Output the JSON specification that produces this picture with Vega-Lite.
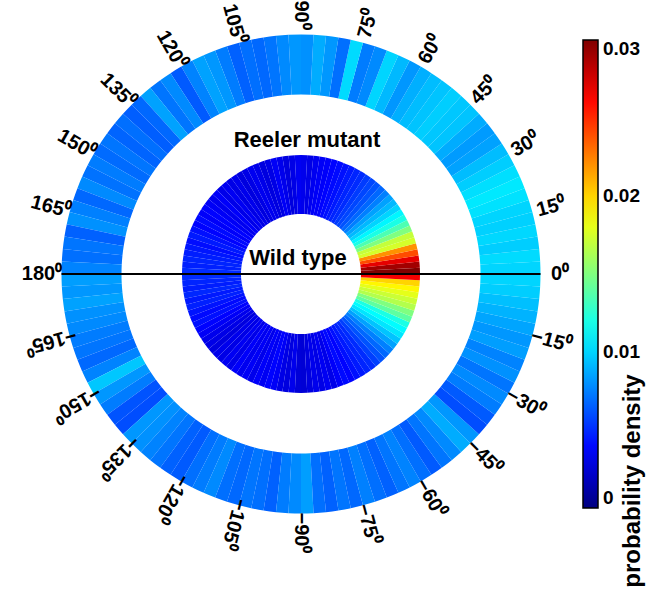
{
  "$schema": "https://vega.github.io/schema/vega-lite/v6.json",
  "width": 602,
  "height": 548,
  "autosize": {"type": "none"},
  "padding": {"left": 0, "top": 0, "right": 48, "bottom": 42},
  "background": "white",
  "config": {"view": {"stroke": null}, "font": "Liberation Sans"},
  "datasets": {
    "bins": [
      {"ring":"Reeler mutant","a0":-180,"a1":-177,"p":0.0084},{"ring":"Reeler mutant","a0":-177,"a1":-174,"p":0.0082},{"ring":"Reeler mutant","a0":-174,"a1":-171,"p":0.0085},{"ring":"Reeler mutant","a0":-171,"a1":-168,"p":0.0080},
      {"ring":"Reeler mutant","a0":-168,"a1":-165,"p":0.0078},{"ring":"Reeler mutant","a0":-165,"a1":-162,"p":0.0074},{"ring":"Reeler mutant","a0":-162,"a1":-159,"p":0.0072},{"ring":"Reeler mutant","a0":-159,"a1":-156,"p":0.0068},
      {"ring":"Reeler mutant","a0":-156,"a1":-153,"p":0.0076},{"ring":"Reeler mutant","a0":-153,"a1":-150,"p":0.0096},{"ring":"Reeler mutant","a0":-150,"a1":-147,"p":0.0082},{"ring":"Reeler mutant","a0":-147,"a1":-144,"p":0.0074},
      {"ring":"Reeler mutant","a0":-144,"a1":-141,"p":0.0062},{"ring":"Reeler mutant","a0":-141,"a1":-138,"p":0.0060},{"ring":"Reeler mutant","a0":-138,"a1":-135,"p":0.0082},{"ring":"Reeler mutant","a0":-135,"a1":-132,"p":0.0080},
      {"ring":"Reeler mutant","a0":-132,"a1":-129,"p":0.0076},{"ring":"Reeler mutant","a0":-129,"a1":-126,"p":0.0072},{"ring":"Reeler mutant","a0":-126,"a1":-123,"p":0.0066},{"ring":"Reeler mutant","a0":-123,"a1":-120,"p":0.0064},
      {"ring":"Reeler mutant","a0":-120,"a1":-117,"p":0.0070},{"ring":"Reeler mutant","a0":-117,"a1":-114,"p":0.0074},{"ring":"Reeler mutant","a0":-114,"a1":-111,"p":0.0078},{"ring":"Reeler mutant","a0":-111,"a1":-108,"p":0.0070},
      {"ring":"Reeler mutant","a0":-108,"a1":-105,"p":0.0068},{"ring":"Reeler mutant","a0":-105,"a1":-102,"p":0.0072},{"ring":"Reeler mutant","a0":-102,"a1":-99,"p":0.0070},{"ring":"Reeler mutant","a0":-99,"a1":-96,"p":0.0066},
      {"ring":"Reeler mutant","a0":-96,"a1":-93,"p":0.0074},{"ring":"Reeler mutant","a0":-93,"a1":-90,"p":0.0078},{"ring":"Reeler mutant","a0":-90,"a1":-87,"p":0.0084},{"ring":"Reeler mutant","a0":-87,"a1":-84,"p":0.0070},
      {"ring":"Reeler mutant","a0":-84,"a1":-81,"p":0.0066},{"ring":"Reeler mutant","a0":-81,"a1":-78,"p":0.0072},{"ring":"Reeler mutant","a0":-78,"a1":-75,"p":0.0068},{"ring":"Reeler mutant","a0":-75,"a1":-72,"p":0.0075},
      {"ring":"Reeler mutant","a0":-72,"a1":-69,"p":0.0070},{"ring":"Reeler mutant","a0":-69,"a1":-66,"p":0.0066},{"ring":"Reeler mutant","a0":-66,"a1":-63,"p":0.0072},{"ring":"Reeler mutant","a0":-63,"a1":-60,"p":0.0076},
      {"ring":"Reeler mutant","a0":-60,"a1":-57,"p":0.0070},{"ring":"Reeler mutant","a0":-57,"a1":-54,"p":0.0064},{"ring":"Reeler mutant","a0":-54,"a1":-51,"p":0.0072},{"ring":"Reeler mutant","a0":-51,"a1":-48,"p":0.0078},
      {"ring":"Reeler mutant","a0":-48,"a1":-45,"p":0.0088},{"ring":"Reeler mutant","a0":-45,"a1":-42,"p":0.0082},{"ring":"Reeler mutant","a0":-42,"a1":-39,"p":0.0060},{"ring":"Reeler mutant","a0":-39,"a1":-36,"p":0.0064},
      {"ring":"Reeler mutant","a0":-36,"a1":-33,"p":0.0074},{"ring":"Reeler mutant","a0":-33,"a1":-30,"p":0.0078},{"ring":"Reeler mutant","a0":-30,"a1":-27,"p":0.0072},{"ring":"Reeler mutant","a0":-27,"a1":-24,"p":0.0080},
      {"ring":"Reeler mutant","a0":-24,"a1":-21,"p":0.0076},{"ring":"Reeler mutant","a0":-21,"a1":-18,"p":0.0084},{"ring":"Reeler mutant","a0":-18,"a1":-15,"p":0.0082},{"ring":"Reeler mutant","a0":-15,"a1":-12,"p":0.0086},
      {"ring":"Reeler mutant","a0":-12,"a1":-9,"p":0.0090},{"ring":"Reeler mutant","a0":-9,"a1":-6,"p":0.0094},{"ring":"Reeler mutant","a0":-6,"a1":-3,"p":0.0098},{"ring":"Reeler mutant","a0":-3,"a1":0,"p":0.0100},
      {"ring":"Reeler mutant","a0":0,"a1":3,"p":0.0100},{"ring":"Reeler mutant","a0":3,"a1":6,"p":0.0102},{"ring":"Reeler mutant","a0":6,"a1":9,"p":0.0098},{"ring":"Reeler mutant","a0":9,"a1":12,"p":0.0101},
      {"ring":"Reeler mutant","a0":12,"a1":15,"p":0.0099},{"ring":"Reeler mutant","a0":15,"a1":18,"p":0.0100},{"ring":"Reeler mutant","a0":18,"a1":21,"p":0.0104},{"ring":"Reeler mutant","a0":21,"a1":24,"p":0.0106},
      {"ring":"Reeler mutant","a0":24,"a1":27,"p":0.0103},{"ring":"Reeler mutant","a0":27,"a1":30,"p":0.0098},{"ring":"Reeler mutant","a0":30,"a1":33,"p":0.0093},{"ring":"Reeler mutant","a0":33,"a1":36,"p":0.0085},
      {"ring":"Reeler mutant","a0":36,"a1":39,"p":0.0083},{"ring":"Reeler mutant","a0":39,"a1":42,"p":0.0088},{"ring":"Reeler mutant","a0":42,"a1":45,"p":0.0095},{"ring":"Reeler mutant","a0":45,"a1":48,"p":0.0096},
      {"ring":"Reeler mutant","a0":48,"a1":51,"p":0.0098},{"ring":"Reeler mutant","a0":51,"a1":54,"p":0.0095},{"ring":"Reeler mutant","a0":54,"a1":57,"p":0.0093},{"ring":"Reeler mutant","a0":57,"a1":60,"p":0.0089},
      {"ring":"Reeler mutant","a0":60,"a1":63,"p":0.0082},{"ring":"Reeler mutant","a0":63,"a1":66,"p":0.0092},{"ring":"Reeler mutant","a0":66,"a1":69,"p":0.0100},{"ring":"Reeler mutant","a0":69,"a1":72,"p":0.0078},
      {"ring":"Reeler mutant","a0":72,"a1":75,"p":0.0074},{"ring":"Reeler mutant","a0":75,"a1":78,"p":0.0102},{"ring":"Reeler mutant","a0":78,"a1":81,"p":0.0070},{"ring":"Reeler mutant","a0":81,"a1":84,"p":0.0082},
      {"ring":"Reeler mutant","a0":84,"a1":87,"p":0.0088},{"ring":"Reeler mutant","a0":87,"a1":90,"p":0.0080},{"ring":"Reeler mutant","a0":90,"a1":93,"p":0.0082},{"ring":"Reeler mutant","a0":93,"a1":96,"p":0.0078},
      {"ring":"Reeler mutant","a0":96,"a1":99,"p":0.0072},{"ring":"Reeler mutant","a0":99,"a1":102,"p":0.0068},{"ring":"Reeler mutant","a0":102,"a1":105,"p":0.0070},{"ring":"Reeler mutant","a0":105,"a1":108,"p":0.0066},
      {"ring":"Reeler mutant","a0":108,"a1":111,"p":0.0074},{"ring":"Reeler mutant","a0":111,"a1":114,"p":0.0082},{"ring":"Reeler mutant","a0":114,"a1":117,"p":0.0085},{"ring":"Reeler mutant","a0":117,"a1":120,"p":0.0076},
      {"ring":"Reeler mutant","a0":120,"a1":123,"p":0.0064},{"ring":"Reeler mutant","a0":123,"a1":126,"p":0.0078},{"ring":"Reeler mutant","a0":126,"a1":129,"p":0.0072},{"ring":"Reeler mutant","a0":129,"a1":132,"p":0.0085},
      {"ring":"Reeler mutant","a0":132,"a1":135,"p":0.0068},{"ring":"Reeler mutant","a0":135,"a1":138,"p":0.0065},{"ring":"Reeler mutant","a0":138,"a1":141,"p":0.0070},{"ring":"Reeler mutant","a0":141,"a1":144,"p":0.0067},
      {"ring":"Reeler mutant","a0":144,"a1":147,"p":0.0072},{"ring":"Reeler mutant","a0":147,"a1":150,"p":0.0069},{"ring":"Reeler mutant","a0":150,"a1":153,"p":0.0074},{"ring":"Reeler mutant","a0":153,"a1":156,"p":0.0071},
      {"ring":"Reeler mutant","a0":156,"a1":159,"p":0.0078},{"ring":"Reeler mutant","a0":159,"a1":162,"p":0.0068},{"ring":"Reeler mutant","a0":162,"a1":165,"p":0.0075},{"ring":"Reeler mutant","a0":165,"a1":168,"p":0.0080},
      {"ring":"Reeler mutant","a0":168,"a1":171,"p":0.0066},{"ring":"Reeler mutant","a0":171,"a1":174,"p":0.0072},{"ring":"Reeler mutant","a0":174,"a1":177,"p":0.0070},{"ring":"Reeler mutant","a0":177,"a1":180,"p":0.0076},
      {"ring":"Wild type","a0":-180,"a1":-177,"p":0.0050},{"ring":"Wild type","a0":-177,"a1":-174,"p":0.0048},{"ring":"Wild type","a0":-174,"a1":-171,"p":0.0046},{"ring":"Wild type","a0":-171,"a1":-168,"p":0.0049},
      {"ring":"Wild type","a0":-168,"a1":-165,"p":0.0045},{"ring":"Wild type","a0":-165,"a1":-162,"p":0.0047},{"ring":"Wild type","a0":-162,"a1":-159,"p":0.0043},{"ring":"Wild type","a0":-159,"a1":-156,"p":0.0040},
      {"ring":"Wild type","a0":-156,"a1":-153,"p":0.0042},{"ring":"Wild type","a0":-153,"a1":-150,"p":0.0038},{"ring":"Wild type","a0":-150,"a1":-147,"p":0.0035},{"ring":"Wild type","a0":-147,"a1":-144,"p":0.0032},
      {"ring":"Wild type","a0":-144,"a1":-141,"p":0.0030},{"ring":"Wild type","a0":-141,"a1":-138,"p":0.0028},{"ring":"Wild type","a0":-138,"a1":-135,"p":0.0032},{"ring":"Wild type","a0":-135,"a1":-132,"p":0.0030},
      {"ring":"Wild type","a0":-132,"a1":-129,"p":0.0034},{"ring":"Wild type","a0":-129,"a1":-126,"p":0.0031},{"ring":"Wild type","a0":-126,"a1":-123,"p":0.0036},{"ring":"Wild type","a0":-123,"a1":-120,"p":0.0033},
      {"ring":"Wild type","a0":-120,"a1":-117,"p":0.0035},{"ring":"Wild type","a0":-117,"a1":-114,"p":0.0032},{"ring":"Wild type","a0":-114,"a1":-111,"p":0.0036},{"ring":"Wild type","a0":-111,"a1":-108,"p":0.0034},
      {"ring":"Wild type","a0":-108,"a1":-105,"p":0.0038},{"ring":"Wild type","a0":-105,"a1":-102,"p":0.0035},{"ring":"Wild type","a0":-102,"a1":-99,"p":0.0030},{"ring":"Wild type","a0":-99,"a1":-96,"p":0.0028},
      {"ring":"Wild type","a0":-96,"a1":-93,"p":0.0032},{"ring":"Wild type","a0":-93,"a1":-90,"p":0.0026},{"ring":"Wild type","a0":-90,"a1":-87,"p":0.0025},{"ring":"Wild type","a0":-87,"a1":-84,"p":0.0028},
      {"ring":"Wild type","a0":-84,"a1":-81,"p":0.0032},{"ring":"Wild type","a0":-81,"a1":-78,"p":0.0030},{"ring":"Wild type","a0":-78,"a1":-75,"p":0.0034},{"ring":"Wild type","a0":-75,"a1":-72,"p":0.0031},
      {"ring":"Wild type","a0":-72,"a1":-69,"p":0.0036},{"ring":"Wild type","a0":-69,"a1":-66,"p":0.0040},{"ring":"Wild type","a0":-66,"a1":-63,"p":0.0038},{"ring":"Wild type","a0":-63,"a1":-60,"p":0.0042},
      {"ring":"Wild type","a0":-60,"a1":-57,"p":0.0045},{"ring":"Wild type","a0":-57,"a1":-54,"p":0.0048},{"ring":"Wild type","a0":-54,"a1":-51,"p":0.0050},{"ring":"Wild type","a0":-51,"a1":-48,"p":0.0056},
      {"ring":"Wild type","a0":-48,"a1":-45,"p":0.0062},{"ring":"Wild type","a0":-45,"a1":-42,"p":0.0068},{"ring":"Wild type","a0":-42,"a1":-39,"p":0.0075},{"ring":"Wild type","a0":-39,"a1":-36,"p":0.0085},
      {"ring":"Wild type","a0":-36,"a1":-33,"p":0.0095},{"ring":"Wild type","a0":-33,"a1":-30,"p":0.0105},{"ring":"Wild type","a0":-30,"a1":-27,"p":0.0112},{"ring":"Wild type","a0":-27,"a1":-24,"p":0.0120},
      {"ring":"Wild type","a0":-24,"a1":-21,"p":0.0140},{"ring":"Wild type","a0":-21,"a1":-18,"p":0.0150},{"ring":"Wild type","a0":-18,"a1":-15,"p":0.0165},{"ring":"Wild type","a0":-15,"a1":-12,"p":0.0172},
      {"ring":"Wild type","a0":-12,"a1":-9,"p":0.0180},{"ring":"Wild type","a0":-9,"a1":-6,"p":0.0190},{"ring":"Wild type","a0":-6,"a1":-3,"p":0.0200},{"ring":"Wild type","a0":-3,"a1":0,"p":0.0265},
      {"ring":"Wild type","a0":0,"a1":3,"p":0.0300},{"ring":"Wild type","a0":3,"a1":6,"p":0.0290},{"ring":"Wild type","a0":6,"a1":9,"p":0.0270},{"ring":"Wild type","a0":9,"a1":12,"p":0.0240},
      {"ring":"Wild type","a0":12,"a1":15,"p":0.0220},{"ring":"Wild type","a0":15,"a1":18,"p":0.0175},{"ring":"Wild type","a0":18,"a1":21,"p":0.0170},{"ring":"Wild type","a0":21,"a1":24,"p":0.0150},
      {"ring":"Wild type","a0":24,"a1":27,"p":0.0135},{"ring":"Wild type","a0":27,"a1":30,"p":0.0120},{"ring":"Wild type","a0":30,"a1":33,"p":0.0110},{"ring":"Wild type","a0":33,"a1":36,"p":0.0100},
      {"ring":"Wild type","a0":36,"a1":39,"p":0.0092},{"ring":"Wild type","a0":39,"a1":42,"p":0.0085},{"ring":"Wild type","a0":42,"a1":45,"p":0.0075},{"ring":"Wild type","a0":45,"a1":48,"p":0.0068},
      {"ring":"Wild type","a0":48,"a1":51,"p":0.0062},{"ring":"Wild type","a0":51,"a1":54,"p":0.0058},{"ring":"Wild type","a0":54,"a1":57,"p":0.0055},{"ring":"Wild type","a0":57,"a1":60,"p":0.0050},
      {"ring":"Wild type","a0":60,"a1":63,"p":0.0048},{"ring":"Wild type","a0":63,"a1":66,"p":0.0045},{"ring":"Wild type","a0":66,"a1":69,"p":0.0042},{"ring":"Wild type","a0":69,"a1":72,"p":0.0040},
      {"ring":"Wild type","a0":72,"a1":75,"p":0.0038},{"ring":"Wild type","a0":75,"a1":78,"p":0.0036},{"ring":"Wild type","a0":78,"a1":81,"p":0.0035},{"ring":"Wild type","a0":81,"a1":84,"p":0.0033},
      {"ring":"Wild type","a0":84,"a1":87,"p":0.0030},{"ring":"Wild type","a0":87,"a1":90,"p":0.0032},{"ring":"Wild type","a0":90,"a1":93,"p":0.0034},{"ring":"Wild type","a0":93,"a1":96,"p":0.0030},
      {"ring":"Wild type","a0":96,"a1":99,"p":0.0028},{"ring":"Wild type","a0":99,"a1":102,"p":0.0032},{"ring":"Wild type","a0":102,"a1":105,"p":0.0035},{"ring":"Wild type","a0":105,"a1":108,"p":0.0030},
      {"ring":"Wild type","a0":108,"a1":111,"p":0.0028},{"ring":"Wild type","a0":111,"a1":114,"p":0.0031},{"ring":"Wild type","a0":114,"a1":117,"p":0.0033},{"ring":"Wild type","a0":117,"a1":120,"p":0.0030},
      {"ring":"Wild type","a0":120,"a1":123,"p":0.0028},{"ring":"Wild type","a0":123,"a1":126,"p":0.0032},{"ring":"Wild type","a0":126,"a1":129,"p":0.0030},{"ring":"Wild type","a0":129,"a1":132,"p":0.0034},
      {"ring":"Wild type","a0":132,"a1":135,"p":0.0031},{"ring":"Wild type","a0":135,"a1":138,"p":0.0036},{"ring":"Wild type","a0":138,"a1":141,"p":0.0033},{"ring":"Wild type","a0":141,"a1":144,"p":0.0035},
      {"ring":"Wild type","a0":144,"a1":147,"p":0.0038},{"ring":"Wild type","a0":147,"a1":150,"p":0.0036},{"ring":"Wild type","a0":150,"a1":153,"p":0.0040},{"ring":"Wild type","a0":153,"a1":156,"p":0.0038},
      {"ring":"Wild type","a0":156,"a1":159,"p":0.0042},{"ring":"Wild type","a0":159,"a1":162,"p":0.0045},{"ring":"Wild type","a0":162,"a1":165,"p":0.0041},{"ring":"Wild type","a0":165,"a1":168,"p":0.0044},
      {"ring":"Wild type","a0":168,"a1":171,"p":0.0046},{"ring":"Wild type","a0":171,"a1":174,"p":0.0048},{"ring":"Wild type","a0":174,"a1":177,"p":0.0047},{"ring":"Wild type","a0":177,"a1":180,"p":0.0050}
    ],
    "ticks": [
      {"deg":0,"lab":"0⁰"},{"deg":15,"lab":"15⁰"},{"deg":30,"lab":"30⁰"},{"deg":45,"lab":"45⁰"},
      {"deg":60,"lab":"60⁰"},{"deg":75,"lab":"75⁰"},{"deg":90,"lab":"90⁰"},{"deg":105,"lab":"105⁰"},
      {"deg":120,"lab":"120⁰"},{"deg":135,"lab":"135⁰"},{"deg":150,"lab":"150⁰"},{"deg":165,"lab":"165⁰"},
      {"deg":180,"lab":"180⁰"},{"deg":-165,"lab":"−165⁰"},{"deg":-150,"lab":"−150⁰"},{"deg":-135,"lab":"−135⁰"},
      {"deg":-120,"lab":"−120⁰"},{"deg":-105,"lab":"−105⁰"},{"deg":-90,"lab":"−90⁰"},{"deg":-75,"lab":"−75⁰"},
      {"deg":-60,"lab":"−60⁰"},{"deg":-45,"lab":"−45⁰"},{"deg":-30,"lab":"−30⁰"},{"deg":-15,"lab":"−15⁰"}
    ]
  },
  "layer": [
    {
      "data": {"name": "bins"},
      "transform": [{"filter": "datum.ring === 'Wild type'"}],
      "mark": {"type": "arc", "radius": 119, "radius2": 60},
      "encoding": {
        "theta": {"field": "a0", "type": "quantitative", "stack": null, "scale": {"domain": [90, -270], "range": [0, 6.283185307]}},
        "theta2": {"field": "a1"},
        "color": {
          "field": "p", "type": "quantitative",
          "scale": {
            "domain": [0, 0.00375, 0.01125, 0.01875, 0.02625, 0.03],
            "range": ["#000080", "#0000ff", "#00ffff", "#ffff00", "#ff0000", "#800000"],
            "interpolate": "rgb"
          },
          "legend": {
            "orient": "none", "legendX": 583, "legendY": 40,
            "direction": "vertical", "gradientLength": 468, "gradientThickness": 15,
            "gradientStrokeColor": "black", "gradientStrokeWidth": 1.5,
            "values": [0, 0.01, 0.02, 0.03], "format": ".2~f",
            "labelFont": "Liberation Sans", "labelFontSize": 19, "labelFontWeight": "bold",
            "labelColor": "black", "labelOffset": 5, "labelOverlap": false,
            "title": null
          }
        }
      }
    },
    {
      "data": {"name": "bins"},
      "transform": [{"filter": "datum.ring === 'Reeler mutant'"}],
      "mark": {"type": "arc", "radius": 239.5, "radius2": 179.5},
      "encoding": {
        "theta": {"field": "a0", "type": "quantitative", "stack": null, "scale": {"domain": [90, -270], "range": [0, 6.283185307]}},
        "theta2": {"field": "a1"},
        "color": {
          "field": "p", "type": "quantitative",
          "scale": {
            "domain": [0, 0.00375, 0.01125, 0.01875, 0.02625, 0.03],
            "range": ["#000080", "#0000ff", "#00ffff", "#ffff00", "#ff0000", "#800000"],
            "interpolate": "rgb"
          }
        }
      }
    },
    {
      "data": {"values": [{"axis": "0-180"}]},
      "mark": {"type": "rule", "stroke": "black", "strokeWidth": 2},
      "encoding": {
        "x": {"datum": -239.5, "type": "quantitative", "scale": {"domain": [-301, 301]}, "axis": null},
        "x2": {"datum": 239.5},
        "y": {"datum": 0, "type": "quantitative", "scale": {"domain": [-274, 274]}, "axis": null}
      }
    },
    {
      "data": {"values": [{"name": "probability density"}]},
      "mark": {"type": "text", "angle": 270, "font": "Liberation Sans", "fontWeight": "bold", "fontSize": 24, "align": "center", "baseline": "middle", "color": "black"},
      "encoding": {
        "x": {"datum": 332, "type": "quantitative", "scale": {"domain": [-301, 301]}},
        "y": {"datum": -207, "type": "quantitative", "scale": {"domain": [-274, 274]}},
        "text": {"field": "name"}
      }
    },
    {
      "data": {"name": "ticks"},
      "mark": {"type": "text", "radius": 259, "font": "Liberation Sans", "fontWeight": "bold", "fontSize": 20, "align": "center", "baseline": "middle", "color": "black"},
      "encoding": {
        "theta": {"field": "deg", "type": "quantitative", "stack": null, "scale": {"domain": [90, -270], "range": [0, 6.283185307]}},
        "angle": {"field": "deg", "type": "quantitative", "scale": {"domain": [-180, 75, 90, 180], "range": [180, -75, 90, 0]}, "legend": null},
        "text": {"field": "lab"}
      }
    },
    {
      "data": {"values": [{"name": "Reeler mutant"}]},
      "mark": {"type": "text", "radius": 134, "theta": 0.045, "font": "Liberation Sans", "fontWeight": "bold", "fontSize": 22, "align": "center", "baseline": "middle", "color": "black"},
      "encoding": {"text": {"field": "name"}}
    },
    {
      "data": {"values": [{"name": "Wild type"}]},
      "mark": {"type": "text", "radius": 16, "theta": -0.19, "font": "Liberation Sans", "fontWeight": "bold", "fontSize": 22, "align": "center", "baseline": "middle", "color": "black"},
      "encoding": {"text": {"field": "name"}}
    }
  ]
}
